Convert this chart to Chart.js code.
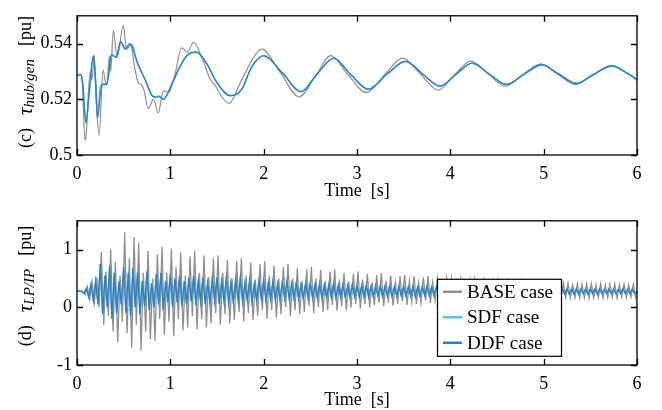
<!DOCTYPE html>
<html>
<head>
<meta charset="utf-8">
<script src="https://cdn.jsdelivr.net/npm/chart.js@4.4.1/dist/chart.umd.min.js"></script>
<style>
  html, body { margin: 0; padding: 0; background: #fff; }
  #wrap { position: relative; width: 662px; height: 410px; }
  canvas { position: absolute; left: 0; }
  #topChart { top: 0; }
  #lowChart { top: 205px; }
</style>
</head>
<body>
<div id="wrap">
  <canvas id="topChart" width="662" height="205"></canvas>
  <canvas id="lowChart" width="662" height="205"></canvas>
</div>
<script>
'use strict';

const seriesNames = ['BASE case', 'SDF case', 'DDF case'];
const seriesColors = ['#8f8f8f', '#5cbce6', '#2f80c1'];

const timeTicks = [0, 1, 2, 3, 4, 5, 6];
const topYTicks = [0.5, 0.52, 0.54];
const topYLabels = ['0.5', '0.52', '0.54'];
const lowYTicks = [-1, 0, 1];
const lowYLabels = ['-1', '0', '1'];

// (c) hub/gen torque
const baseTopT = [0, 0.05, 0.086, 0.1, 0.14, 0.16, 0.185, 0.205, 0.236, 0.28, 0.3, 0.32, 0.347, 0.36, 0.39, 0.43,
  0.497, 0.53, 0.575, 0.62, 0.657, 0.69, 0.72, 0.764, 0.82, 0.87, 0.925, 0.98, 1.05, 1.12, 1.18, 1.25,
  1.35, 1.43, 1.48, 1.55, 1.63, 1.75, 1.89, 1.98, 2.17, 2.38, 2.55, 2.72, 2.9, 3.1, 3.3, 3.49,
  3.68, 3.87, 4.05, 4.22, 4.41, 4.59, 4.78, 4.97, 5.15, 5.34, 5.53, 5.73, 5.9, 6.0];
const baseTopV = [0.529, 0.529, 0.5052, 0.508, 0.5299, 0.527, 0.536, 0.52, 0.5069, 0.5305, 0.527, 0.525, 0.5356, 0.53, 0.5448, 0.535,
  0.5466, 0.538, 0.5393, 0.531, 0.5259, 0.5253, 0.523, 0.5167, 0.52, 0.515, 0.523, 0.5224, 0.529, 0.5385, 0.537, 0.5405,
  0.5339, 0.527, 0.525, 0.521, 0.5185, 0.526, 0.535, 0.538, 0.53, 0.5209, 0.528, 0.5357, 0.529, 0.5224, 0.529, 0.5348,
  0.529, 0.5233, 0.529, 0.5337, 0.529, 0.5247, 0.529, 0.5327, 0.529, 0.5253, 0.529, 0.5322, 0.5292, 0.527];

const ddfTopT = [0, 0.04, 0.06, 0.096, 0.13, 0.175, 0.2, 0.22, 0.25, 0.27, 0.32, 0.37, 0.42, 0.468, 0.515, 0.568,
  0.6, 0.64, 0.73, 0.8, 0.835, 0.88, 0.925, 1.015, 1.1, 1.19, 1.28, 1.39, 1.5, 1.64, 1.765, 1.87,
  2.0, 2.2, 2.4, 2.57, 2.75, 2.93, 3.12, 3.32, 3.52, 3.7, 3.89, 4.06, 4.23, 4.42, 4.6, 4.79,
  4.98, 5.16, 5.35, 5.54, 5.73, 5.9, 6.0];
const ddfTopV = [0.5287, 0.5287, 0.526, 0.5115, 0.522, 0.5356, 0.526, 0.5132, 0.522, 0.5253, 0.5255, 0.5362, 0.535, 0.5408, 0.538, 0.54,
  0.538, 0.5339, 0.527, 0.5215, 0.5207, 0.521, 0.5199, 0.5253, 0.5316, 0.5362, 0.537, 0.5328, 0.5259, 0.5213, 0.5236, 0.5316,
  0.5357, 0.5295, 0.5227, 0.529, 0.5348, 0.529, 0.5236, 0.529, 0.5337, 0.5292, 0.5247, 0.5289, 0.533, 0.529, 0.5253, 0.529,
  0.5324, 0.5291, 0.5257, 0.529, 0.532, 0.5293, 0.5272];
const sdfTopV = [0.5287, 0.5287, 0.526, 0.5118, 0.5225, 0.5352, 0.5262, 0.5136, 0.5245, 0.5255, 0.5258, 0.5358, 0.5352, 0.5404, 0.5384, 0.5398,
  0.5392, 0.5336, 0.5272, 0.5217, 0.5209, 0.5212, 0.5201, 0.5254, 0.5315, 0.536, 0.5369, 0.5328, 0.526, 0.5214, 0.5236, 0.5315,
  0.5356, 0.5295, 0.5228, 0.529, 0.5347, 0.529, 0.5237, 0.529, 0.5336, 0.5292, 0.5248, 0.5289, 0.5329, 0.529, 0.5254, 0.529,
  0.5323, 0.5291, 0.5258, 0.529, 0.5319, 0.5292, 0.5268];

// (d) LP/IP torque, one value every lowStep seconds (peaks and troughs)
const lowStep = 0.025;
const baseLowShift = 0.011;
const baseLow = [
  0.28, 0.28, 0.28, 0.22, 0.36, 0.14, 0.44, 0.08, 0.52, 0.0, 0.96, -0.3, 0.62, -0.15, 1.0, -0.42, 0.78, -0.6, 0.55, -0.25,
  1.3, -0.45, 0.85, -0.7, 1.22, -0.3, 1.12, -0.75, 0.6, -0.42, 0.98, -0.55, 0.5, -0.58, 0.92, -0.2, 1.05, -0.48, 0.6, -0.25,
  1.02, -0.5, 0.7, -0.2, 0.95, -0.4, 0.55, -0.35, 0.88, -0.15, 0.98, -0.38, 0.6, -0.2, 0.9, -0.35, 0.52, -0.28, 0.85, -0.1,
  0.9, -0.3, 0.6, -0.12, 0.82, -0.28, 0.5, -0.22, 0.8, -0.08, 0.85, -0.25, 0.55, -0.1, 0.78, -0.22, 0.48, -0.15, 0.75, -0.05,
  0.8, -0.2, 0.55, -0.05, 0.72, -0.18, 0.5, -0.12, 0.7, 0.0, 0.75, -0.15, 0.5, -0.05, 0.68, -0.12, 0.46, -0.08, 0.66, 0.02,
  0.7, -0.1, 0.5, 0.0, 0.65, -0.08, 0.46, -0.05, 0.62, 0.04, 0.66, -0.06, 0.48, 0.02, 0.6, -0.05, 0.45, 0.0, 0.58, 0.06,
  0.62, -0.02, 0.48, 0.06, 0.58, 0.0, 0.44, 0.04, 0.56, 0.08, 0.6, 0.02, 0.46, 0.08, 0.55, 0.03, 0.43, 0.06, 0.54, 0.1,
  0.56, 0.04, 0.45, 0.1, 0.54, 0.06, 0.42, 0.08, 0.52, 0.12, 0.54, 0.07, 0.44, 0.12, 0.5, 0.08, 0.42, 0.1, 0.5, 0.13,
  0.5, 0.1, 0.44, 0.13, 0.48, 0.11, 0.42, 0.12, 0.47, 0.14, 0.48, 0.12, 0.42, 0.15, 0.46, 0.13, 0.41, 0.14, 0.45, 0.16,
  0.46, 0.14, 0.42, 0.16, 0.45, 0.15, 0.41, 0.16, 0.44, 0.17, 0.45, 0.15, 0.41, 0.17, 0.43, 0.16, 0.4, 0.17, 0.43, 0.18,
  0.43, 0.16, 0.4, 0.17, 0.42, 0.16, 0.4, 0.17, 0.42, 0.17, 0.42, 0.16, 0.39, 0.17, 0.41, 0.16, 0.4, 0.17, 0.41, 0.16,
  0.41, 0.16, 0.39, 0.17, 0.41, 0.16, 0.39, 0.17, 0.4, 0.17, 0.41, 0.16, 0.39, 0.18, 0.4, 0.17, 0.39, 0.18, 0.4, 0.17,
  0.3
];
const ddfLow = [
  0.28, 0.28, 0.28, 0.24, 0.33, 0.18, 0.4, 0.12, 0.45, 0.05, 0.75, -0.12, 0.55, 0.0, 0.72, -0.2, 0.6, -0.1, 0.45, 0.05,
  0.7, -0.1, 0.6, -0.15, 0.68, 0.0, 0.62, -0.12, 0.45, 0.02, 0.62, -0.05, 0.42, 0.0, 0.58, 0.05, 0.6, -0.05, 0.45, 0.08,
  0.58, 0.0, 0.5, 0.08, 0.55, 0.02, 0.45, 0.05, 0.52, 0.1, 0.55, 0.04, 0.45, 0.1, 0.52, 0.05, 0.42, 0.08, 0.5, 0.12,
  0.52, 0.06, 0.45, 0.12, 0.5, 0.08, 0.42, 0.1, 0.48, 0.14, 0.5, 0.1, 0.42, 0.13, 0.47, 0.1, 0.4, 0.12, 0.46, 0.15,
  0.46, 0.12, 0.42, 0.15, 0.45, 0.13, 0.4, 0.14, 0.44, 0.16, 0.45, 0.14, 0.4, 0.16, 0.43, 0.15, 0.39, 0.16, 0.42, 0.17,
  0.42, 0.16, 0.39, 0.17, 0.41, 0.16, 0.38, 0.17, 0.4, 0.18, 0.41, 0.17, 0.38, 0.18, 0.39, 0.17, 0.37, 0.18, 0.39, 0.19,
  0.38, 0.18, 0.37, 0.19, 0.38, 0.18, 0.36, 0.19, 0.37, 0.2, 0.37, 0.19, 0.36, 0.2, 0.37, 0.19, 0.35, 0.2, 0.36, 0.2,
  0.36, 0.2, 0.35, 0.2, 0.36, 0.19, 0.35, 0.2, 0.36, 0.21, 0.36, 0.2, 0.35, 0.21, 0.35, 0.2, 0.34, 0.21, 0.35, 0.21,
  0.35, 0.21, 0.34, 0.21, 0.35, 0.21, 0.34, 0.22, 0.34, 0.21, 0.35, 0.21, 0.34, 0.22, 0.34, 0.21, 0.34, 0.22, 0.34, 0.22,
  0.34, 0.22, 0.33, 0.22, 0.34, 0.22, 0.33, 0.22, 0.34, 0.22, 0.33, 0.22, 0.33, 0.23, 0.33, 0.22, 0.33, 0.23, 0.33, 0.23,
  0.33, 0.23, 0.32, 0.23, 0.33, 0.23, 0.32, 0.23, 0.32, 0.23, 0.32, 0.23, 0.32, 0.23, 0.32, 0.23, 0.32, 0.24, 0.32, 0.23,
  0.32, 0.24, 0.32, 0.23, 0.32, 0.24, 0.31, 0.24, 0.32, 0.24, 0.31, 0.24, 0.31, 0.24, 0.32, 0.24, 0.31, 0.24, 0.31, 0.24,
  0.28
];
// SDF and DDF are not told apart in panel (d)
const sdfLow = ddfLow;

const serif = "'Liberation Serif', 'Times New Roman', serif";

function toPoints(tArr, vArr){
  return vArr.map((v, i) => ({x: tArr[i], y: v}));
}
function stepPoints(vArr, shift){
  return vArr.map((v, i) => ({x: Math.min(6, +(i * lowStep + (i > 2 ? shift : 0)).toFixed(3)), y: v}));
}

function lineSet(idx, data, width, smooth){
  return {
    label: seriesNames[idx],
    data: data,
    borderColor: seriesColors[idx],
    borderWidth: width,
    pointRadius: 0,
    fill: false,
    tension: smooth ? 0.4 : 0,
    cubicInterpolationMode: smooth ? 'monotone' : 'default',
    order: 2 - idx
  };
}

// box, inward ticks, axis titles, legend
const paperLook = {
  id: 'paperLook',
  afterDatasetsDraw(chart, args, opts){
    const ctx = chart.ctx;
    const a = chart.chartArea;
    const sx = chart.scales.x;
    const sy = chart.scales.y;
    ctx.save();
    ctx.strokeStyle = '#000';
    ctx.lineWidth = 1.3;
    ctx.strokeRect(a.left, a.top, a.right - a.left, a.bottom - a.top);
    ctx.beginPath();
    sx.ticks.forEach(t => {
      const px = Math.round(sx.getPixelForValue(t.value)) + 0.5;
      ctx.moveTo(px, a.bottom); ctx.lineTo(px, a.bottom - 6);
      ctx.moveTo(px, a.top); ctx.lineTo(px, a.top + 6);
    });
    sy.ticks.forEach(t => {
      const py = Math.round(sy.getPixelForValue(t.value)) + 0.5;
      ctx.moveTo(a.left, py); ctx.lineTo(a.left + 6, py);
      ctx.moveTo(a.right, py); ctx.lineTo(a.right - 6, py);
    });
    ctx.stroke();

    // x title
    ctx.fillStyle = '#000';
    ctx.font = '18px ' + serif;
    ctx.textAlign = 'center';
    ctx.textBaseline = 'middle';
    ctx.fillText('Time  [s]', (a.left + a.right) / 2, a.bottom + opts.xTitleGap);

    // y title, rotated, with italic subscript
    const parts = [
      {s: opts.tag, f: '18px ' + serif, dy: 0, gap: 13},
      {s: '\u03c4', f: 'italic 21px ' + serif, dy: 0, gap: 0},
      {s: opts.sub, f: 'italic 15px ' + serif, dy: 4, gap: 13},
      {s: '[pu]', f: '18px ' + serif, dy: 0, gap: 0}
    ];
    let total = 0;
    parts.forEach(p => { ctx.font = p.f; p.w = ctx.measureText(p.s).width; total += p.w + p.gap; });
    ctx.translate(26, opts.yTitleMid);
    ctx.rotate(-Math.PI / 2);
    ctx.textAlign = 'left';
    let cx = -total / 2;
    parts.forEach(p => {
      ctx.font = p.f;
      ctx.fillText(p.s, cx, p.dy);
      cx += p.w + p.gap;
    });
    ctx.restore();

    if (!opts.legend) return;
    const lx = a.left + 360;
    const ly = a.top + 58;
    ctx.save();
    ctx.fillStyle = '#fff';
    ctx.fillRect(lx, ly, 124, 77);
    ctx.strokeStyle = '#000';
    ctx.lineWidth = 1.2;
    ctx.strokeRect(lx + 0.5, ly + 0.5, 124, 77);
    ctx.font = '19px ' + serif;
    ctx.textAlign = 'left';
    ctx.textBaseline = 'middle';
    seriesNames.forEach((name, i) => {
      const ry = ly + 13 + i * 25.5;
      ctx.strokeStyle = seriesColors[i];
      ctx.lineWidth = 2.5;
      ctx.beginPath();
      ctx.moveTo(lx + 6, ry); ctx.lineTo(lx + 25, ry);
      ctx.stroke();
      ctx.fillStyle = '#000';
      ctx.fillText(name, lx + 30, ry + 1);
    });
    ctx.restore();
  }
};

function makeOptions(yMin, yMax, yTicks, yLabels, padTop, xHeight, look){
  return {
    responsive: false,
    animation: false,
    devicePixelRatio: 1,
    layout: {padding: {top: padTop, right: 25, left: 0, bottom: 0}},
    plugins: {legend: {display: false}, tooltip: {enabled: false}, paperLook: look},
    scales: {
      x: {
        type: 'linear', min: 0, max: 6,
        grid: {display: false, drawTicks: false},
        border: {display: false},
        afterBuildTicks(s){ s.ticks = timeTicks.map(v => ({value: v})); },
        afterFit(s){ s.height = xHeight; },
        ticks: {color: '#000', font: {family: serif, size: 18}, padding: 8, maxRotation: 0, autoSkip: false}
      },
      y: {
        type: 'linear', min: yMin, max: yMax,
        grid: {display: false, drawTicks: false},
        border: {display: false},
        afterBuildTicks(s){ s.ticks = yTicks.map(v => ({value: v})); },
        afterFit(s){ s.width = 77; },
        ticks: {color: '#000', font: {family: serif, size: 18}, padding: 5,
          callback: (v, i) => yLabels[i]}
      }
    }
  };
}

new Chart(document.getElementById('topChart').getContext('2d'), {
  type: 'line',
  data: {datasets: [
    lineSet(0, toPoints(baseTopT, baseTopV), 1.2, true),
    lineSet(1, toPoints(ddfTopT, sdfTopV), 1.4, true),
    lineSet(2, toPoints(ddfTopT, ddfTopV), 1.4, true)
  ]},
  options: makeOptions(0.5, 0.55, topYTicks, topYLabels, 10, 50,
    {tag: '(c)', sub: 'hub/gen', xTitleGap: 36, yTitleMid: 82, legend: false}),
  plugins: [paperLook]
});

new Chart(document.getElementById('lowChart').getContext('2d'), {
  type: 'line',
  data: {datasets: [
    lineSet(0, stepPoints(baseLow, baseLowShift), 1.3, false),
    lineSet(1, stepPoints(sdfLow, 0), 1.4, false),
    lineSet(2, stepPoints(ddfLow, 0), 1.4, false)
  ]},
  options: makeOptions(-1, 1.5, lowYTicks, lowYLabels, 14, 45,
    {tag: '(d)', sub: 'LP/IP', xTitleGap: 35, yTitleMid: 81, legend: true}),
  plugins: [paperLook]
});
</script>
</body>
</html>
